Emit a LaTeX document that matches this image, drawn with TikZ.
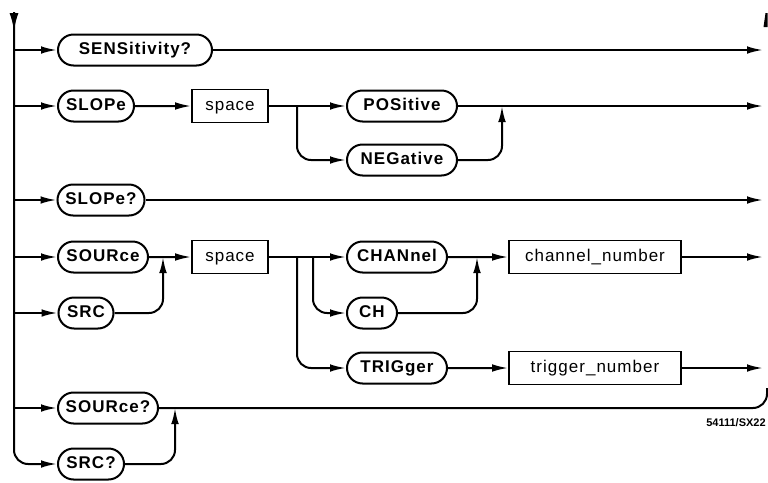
\documentclass[tikz,border=0pt]{standalone}
\usepackage{fontspec}
\setmainfont{Liberation Sans}
\newfontfamily\plotfont[LetterSpace=6]{Liberation Sans}
\usetikzlibrary{arrows.meta,shapes.misc}

\begin{document}
\begin{tikzpicture}[x=0.5pt,y=-0.5pt,->,>={Latex[length=8pt,width=3.8pt]},
	line width=1pt]
	\tikzstyle{keyword}=[draw,rounded rectangle,minimum height=15.5pt,inner xsep=0pt,
		text height=6pt,text depth=1.6pt,
		font=\plotfont\bfseries\fontsize{8.5}{10}\selectfont]
	\tikzstyle{param}=[draw,rectangle,minimum height=16.5pt,inner xsep=0pt,line width=0.8pt,
		text height=6pt,text depth=1.6pt,
		font=\plotfont\fontsize{8.5}{10}\selectfont]
	\tikzstyle{joinpath}=[rounded corners=7pt]

	\useasboundingbox (0,0) rectangle (768,483);

	% entry trunk and exit column
	\coordinate (top) at (14,12);
	\coordinate (out) at (763,0);

	% keywords and parameters
	\node[keyword,minimum width=77pt]   (sens)    at (135,50)  {SENSitivity?};
	\node[keyword,minimum width=38pt]   (slope)   at (96,106)  {SLOPe};
	\node[param,minimum width=38pt]     (space1)  at (230,106) {space};
	\node[keyword,minimum width=55pt]   (pos)     at (402,106) {POSitive};
	\node[keyword,minimum width=55pt]   (neg)     at (402,160) {NEGative};
	\node[keyword,minimum width=43.5pt] (slopeq)  at (101,200) {SLOPe?};
	\node[keyword,minimum width=45pt]   (source)  at (103,257) {SOURce};
	\node[keyword,minimum width=27.5pt] (src)     at (86,313)  {SRC};
	\node[param,minimum width=38pt]     (space2)  at (230,257) {space};
	\node[keyword,minimum width=50pt]   (chan)    at (397,257) {CHANnel};
	\node[keyword,minimum width=25pt]   (ch)      at (372,313) {CH};
	\node[keyword,minimum width=50pt]   (trig)    at (397,368) {TRIGger};
	\node[param,minimum width=86pt]     (chnum)   at (595,257) {channel\_number};
	\node[param,minimum width=86pt]     (trnum)   at (595,368) {trigger\_number};
	\node[keyword,minimum width=50pt]   (sourceq) at (108,408) {SOURce?};
	\node[keyword,minimum width=33pt]   (srcq)    at (91,464)  {SRC?};

	\node[font=\bfseries\fontsize{5.5}{6}\selectfont] (fig) at (736,423) {54111/SX22};

	% trunk
	\draw[-{Latex[length=9pt,width=4.5pt]}] (top) -- (14,31);
	\draw[joinpath] (top) |- (srcq.west);
	\foreach \n in {sens,slope,slopeq,source,src,sourceq}
		\draw (\n.west -| top) -- (\n.west);

	% SENSitivity? and SLOPe? rows
	\draw (sens.east) -- (sens.east -| out);
	\draw (slopeq.east) -- (slopeq.east -| out);

	% SLOPe row
	\coordinate (split1) at (297,0);
	\coordinate (merge1) at (502,0);
	\draw (slope) -- (space1);
	\draw (space1) -- (pos);
	\draw[joinpath] (space1.east -| split1) |- (neg.west);
	\draw[joinpath] (neg.east) -| (pos.east -| merge1);
	\draw (pos.east) -- (pos.east -| out);

	% SOURce row
	\coordinate (merge2) at (163,0);
	\coordinate (split2) at (313,0);
	\coordinate (merge3) at (477,0);
	\draw (source) -- (space2);
	\draw[joinpath] (src.east) -| (source.east -| merge2);
	\draw (space2) -- (chan);
	\draw[joinpath] (space2.east -| split2) |- (ch.west);
	\draw[joinpath] (space2.east -| split1) |- (trig.west);
	\draw (chan) -- (chnum);
	\draw[joinpath] (ch.east) -| (chan.east -| merge3);
	\draw (chnum.east) -- (chnum.east -| out);
	\draw (trig) -- (trnum);
	\draw (trnum.east) -- (trnum.east -| out);

	% SOURce? row and return
	\coordinate (merge4) at (175,0);
	\coordinate (back) at (767,388);
	\draw[-,joinpath] (sourceq.east) -| (back);
	\draw[joinpath] (srcq.east) -| (sourceq.east -| merge4);
	\fill (763.5,27) -- (765.5,13) -- (767.5,13) -- (767.5,27) -- cycle;
\end{tikzpicture}
\end{document}
